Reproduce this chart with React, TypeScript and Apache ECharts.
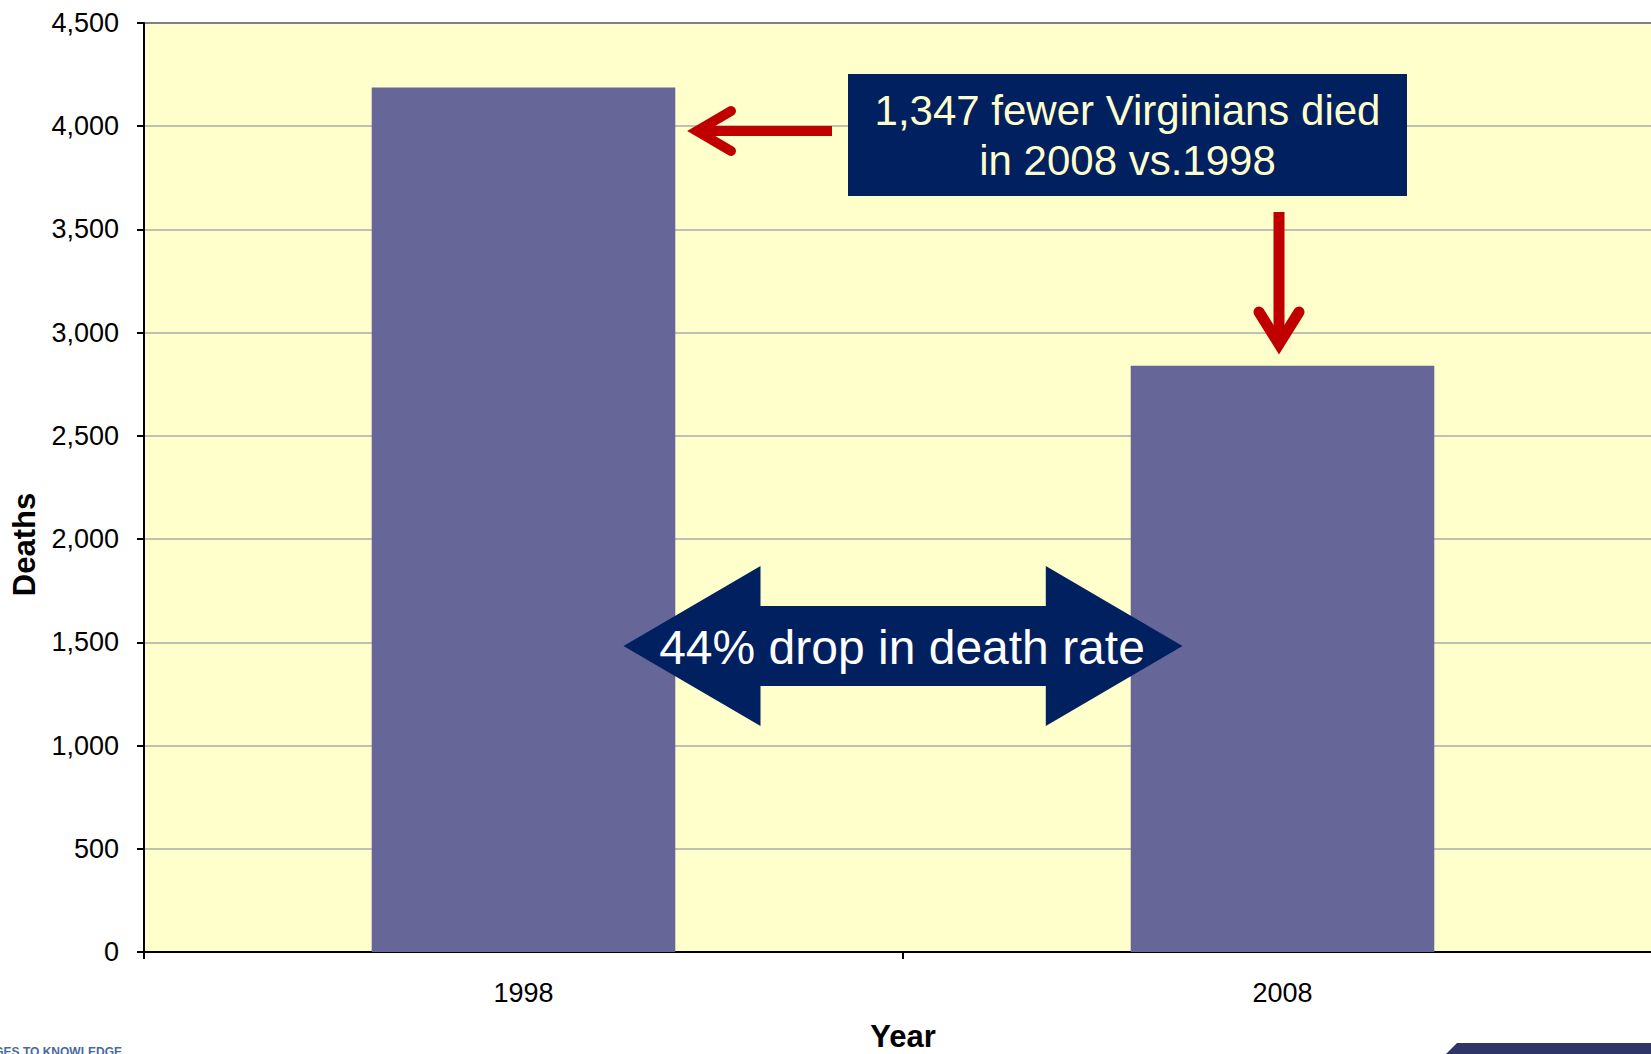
import React, { useEffect, useRef } from "react";
import * as echarts from "echarts";

const categories = ["1998", "2008"];
const deaths = [4187, 2840];
const yMin = 0;
const yMax = 4500;
const yInterval = 500;
const calloutLines = ["1,347 fewer Virginians died", "in 2008 vs.1998"];
const dropText = "44% drop in death rate";
const xTitle = "Year";
const yTitle = "Deaths";

const FONT = '"Liberation Sans", Arial, sans-serif';
const NAVY = "#002060";
const RED = "#C00000";

export default function App() {
  const ref = useRef<HTMLDivElement>(null);
  useEffect(() => {
    if (!ref.current) return;
    const chart = echarts.init(ref.current, null, { renderer: "svg" });
    const Z = 100;
    chart.setOption({
      animation: false,
      backgroundColor: "#ffffff",
      grid: {
        left: 144,
        top: 23,
        right: 38,
        bottom: 102,
        show: true,
        backgroundColor: "#FFFFCC",
        borderColor: "#000000",
        borderWidth: 2,
        containLabel: false,
        outerBoundsMode: "none",
      },
      xAxis: {
        type: "category",
        data: categories,
        boundaryGap: true,
        name: xTitle,
        nameLocation: "middle",
        nameGap: 69,
        nameTextStyle: { fontFamily: FONT, fontSize: 31, fontWeight: "bold", color: "#000" },
        axisLine: { show: true, lineStyle: { color: "#000", width: 2 } },
        axisTick: { show: true, length: 7, lineStyle: { color: "#000", width: 2 } },
        axisLabel: { margin: 27, fontFamily: FONT, fontSize: 27, color: "#000" },
      },
      yAxis: {
        type: "value",
        min: yMin,
        max: yMax,
        interval: yInterval,
        axisLine: { show: true, lineStyle: { color: "#000", width: 2 } },
        axisTick: { show: true, length: 7, lineStyle: { color: "#000", width: 2 } },
        axisLabel: {
          margin: 25,
          fontFamily: FONT,
          fontSize: 27,
          color: "#000",
          formatter: (v: number) => v.toLocaleString("en-US"),
        },
        splitLine: { show: true, lineStyle: { color: "#ABABAB", width: 1.5 } },
      },
      series: [
        {
          type: "bar",
          data: deaths,
          barWidth: "40%",
          itemStyle: { color: "#666699" },
        },
      ],
      graphic: [
        {
          type: "text",
          z: Z,
          x: 24.5,
          y: 544.5,
          rotation: Math.PI / 2,
          style: {
            text: yTitle,
            fontFamily: FONT,
            fontSize: 31,
            fontWeight: "bold",
            fill: "#000",
            align: "center",
            verticalAlign: "middle",
          },
        },
        {
          type: "rect",
          z: Z,
          shape: { x: 848, y: 74, width: 559, height: 122 },
          style: { fill: NAVY },
        },
        {
          type: "text",
          z: Z + 1,
          x: 1127.5,
          y: 110,
          style: {
            text: calloutLines[0],
            fontFamily: FONT,
            fontSize: 42,
            fill: "#FFFFCC",
            align: "center",
            verticalAlign: "middle",
          },
        },
        {
          type: "text",
          z: Z + 1,
          x: 1127.5,
          y: 160,
          style: {
            text: calloutLines[1],
            fontFamily: FONT,
            fontSize: 42,
            fill: "#FFFFCC",
            align: "center",
            verticalAlign: "middle",
          },
        },
        // left red arrow
        {
          type: "line",
          z: Z,
          shape: { x1: 832, y1: 131, x2: 700, y2: 131 },
          style: { stroke: RED, lineWidth: 10, lineCap: "butt" },
        },
        {
          type: "polyline",
          z: Z,
          shape: { points: [[731, 111], [697, 131], [731, 151]] },
          style: { stroke: RED, lineWidth: 10, lineCap: "round", lineJoin: "miter", fill: "none" },
        },
        // down red arrow
        {
          type: "line",
          z: Z,
          shape: { x1: 1279, y1: 212, x2: 1279, y2: 340 },
          style: { stroke: RED, lineWidth: 11, lineCap: "butt" },
        },
        {
          type: "polyline",
          z: Z,
          shape: { points: [[1259, 312], [1279, 344], [1299, 312]] },
          style: { stroke: RED, lineWidth: 11, lineCap: "round", lineJoin: "miter", fill: "none" },
        },
        // double arrow
        {
          type: "polygon",
          z: Z,
          shape: {
            points: [
              [623.5, 646],
              [760.5, 566],
              [760.5, 606],
              [1045.8, 606],
              [1045.8, 566],
              [1182.5, 646],
              [1045.8, 726],
              [1045.8, 686],
              [760.5, 686],
              [760.5, 726],
            ],
          },
          style: { fill: NAVY },
        },
        {
          type: "text",
          z: Z + 1,
          x: 902,
          y: 647,
          style: {
            text: dropText,
            fontFamily: FONT,
            fontSize: 48,
            fill: "#FFFFFF",
            align: "center",
            verticalAlign: "middle",
          },
        },
        // bottom decorations (clipped, as in the reference)
        {
          type: "text",
          z: Z,
          x: 122,
          y: 1046,
          style: {
            text: "BRIDGES TO KNOWLEDGE",
            fontFamily: FONT,
            fontSize: 12,
            fontWeight: "bold",
            fill: "#4A6A9A",
            align: "right",
            verticalAlign: "top",
          },
        },
        {
          type: "polygon",
          z: Z,
          shape: { points: [[1446, 1054], [1457, 1043], [1700, 1043], [1700, 1054]] },
          style: { fill: "#2F3567" },
        },
      ],
    });
    return () => chart.dispose();
  }, []);
  return (
    <div
      style={{
        position: "fixed",
        left: 0,
        top: 0,
        width: 1651,
        height: 1054,
        overflow: "hidden",
        background: "#fff",
      }}
    >
      <div ref={ref} style={{ width: 1700, height: 1054 }} />
    </div>
  );
}
